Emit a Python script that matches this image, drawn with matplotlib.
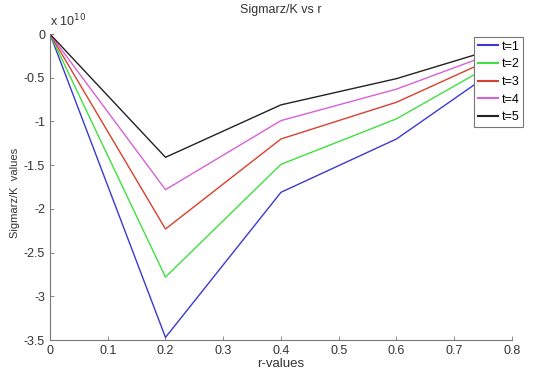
import numpy as np
import matplotlib.pyplot as plt
from matplotlib.ticker import FuncFormatter

plt.rcParams['font.family'] = ['Liberation Sans', 'DejaVu Sans']

# data (y values in units of 1e10)
r = [0, 0.2, 0.4, 0.6, 0.8]
t1 = [0, -3.47, -1.81, -1.20, -0.28]
t2 = [0, -2.78, -1.49, -0.97, -0.22]
t3 = [0, -2.23, -1.20, -0.78, -0.18]
t4 = [0, -1.78, -0.99, -0.63, -0.14]
t5 = [0, -1.41, -0.81, -0.51, -0.11]
labels = ["t=1", "t=2", "t=3", "t=4", "t=5"]
colors = ["#3a3ad0", "#3fe03f", "#d8402e", "#d860d8", "#222222"]
scale = 1e10

fig = plt.figure(figsize=(5.34, 3.70), dpi=100)
ax = fig.add_axes([0.0936, 0.081, 0.8652, 0.827])

for y, lab, c in zip([t1, t2, t3, t4, t5], labels, colors):
    ax.plot(r, np.array(y) * scale, color=c, lw=1.0, label=lab)

ax.set_xlim(0, 0.8)
ax.set_ylim(-3.5 * scale, 0)
ax.set_xticks(np.arange(0, 0.81, 0.1))
ax.set_yticks(np.arange(-3.5, 0.01, 0.5) * scale)
ax.xaxis.set_major_formatter(FuncFormatter(lambda v, p: "%g" % round(v, 2)))
ax.yaxis.set_major_formatter(FuncFormatter(lambda v, p: "%g" % round(v / scale, 2)))

for s in ["top", "right"]:
    ax.spines[s].set_visible(False)
for s in ["left", "bottom"]:
    ax.spines[s].set_color("#777777")
    ax.spines[s].set_linewidth(0.8)
ax.tick_params(direction="in", length=3, width=0.6, colors="#777777",
               labelcolor="#333333", labelsize=9)

ax.text(0.0, 1.015, "x 10$^{10}$", transform=ax.transAxes, fontsize=9,
        color="#333333", ha="left", va="bottom")

ax.set_title("Sigmarz/K vs r", fontsize=9, color="#333333", pad=15)
ax.set_xlabel("r-values", fontsize=9.5, color="#333333", labelpad=1)
ax.set_ylabel("Sigmarz/K  values", fontsize=8, color="#333333")
ax.yaxis.set_label_coords(-0.064, 0.48)

leg = ax.legend(loc="upper right", bbox_to_anchor=(1.024, 0.99), borderaxespad=0,
                fontsize=9, handlelength=1.6, handletextpad=0.3, labelspacing=0.45,
                borderpad=0.3, fancybox=False, framealpha=1)
leg.get_frame().set_edgecolor("#777777")
leg.get_frame().set_linewidth(0.8)
for line in leg.get_lines():
    line.set_linewidth(1.5)

fig.savefig("out.png", dpi=100)
